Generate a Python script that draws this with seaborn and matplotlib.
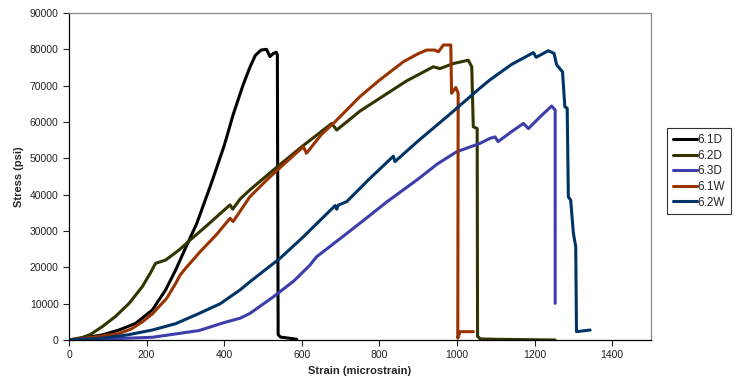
import matplotlib
matplotlib.use("Agg")
import matplotlib.pyplot as plt
import seaborn as sns
import pandas as pd

# Stress-strain curves
x_61d = [0, 20, 50, 86, 130, 172, 215, 249, 275, 301, 329, 346, 368, 400, 423, 448, 466, 480, 495, 509, 518, 526, 534, 537, 539, 545, 560, 587]
y_61d = [0, 300, 800, 1400, 2800, 4600, 8300, 13800, 19300, 25500, 32000, 37000, 43500, 53500, 62000, 70000, 75000, 78300, 79800, 80000, 78000, 78800, 79200, 78500, 1500, 800, 600, 200]

x_62d = [0, 34, 55, 86, 120, 155, 189, 210, 223, 249, 284, 312, 350, 415, 422, 441, 466, 527, 600, 677, 690, 750, 815, 870, 939, 956, 991, 1029, 1038, 1042, 1052, 1053, 1060, 1100, 1253]
y_62d = [0, 700, 1500, 3700, 6500, 10100, 14700, 18500, 21100, 22000, 24800, 27500, 31000, 37200, 36000, 38800, 41300, 46800, 53200, 59600, 57800, 63000, 67500, 71300, 75200, 74700, 76100, 77000, 75200, 58700, 58200, 1000, 300, 200, 0]

x_63d = [0, 100, 215, 335, 400, 441, 466, 527, 580, 621, 638, 700, 760, 819, 896, 950, 999, 1059, 1085, 1098, 1106, 1140, 1171, 1184, 1215, 1244, 1253, 1253]
y_63d = [0, 300, 750, 2600, 4800, 6000, 7300, 11900, 16300, 20600, 22900, 28000, 33000, 38000, 44000, 48500, 51800, 54100, 55500, 55900, 54600, 57300, 59600, 58200, 61500, 64400, 63300, 10100]

x_61w = [0, 43, 86, 129, 160, 189, 215, 232, 252, 275, 286, 301, 338, 380, 415, 423, 466, 514, 560, 604, 612, 650, 686, 750, 800, 862, 900, 922, 943, 952, 965, 984, 986, 997, 1003, 1002, 1008, 1042]
y_61w = [0, 500, 1100, 1800, 3000, 5000, 7200, 9200, 11500, 15600, 17800, 19800, 24300, 29000, 33500, 32600, 39400, 44500, 49000, 53200, 51400, 56500, 60100, 67000, 71500, 76600, 78800, 79800, 79800, 79300, 81200, 81200, 67900, 69500, 67900, 500, 2300, 2300]

x_62w = [0, 86, 150, 215, 275, 335, 390, 441, 466, 544, 600, 686, 690, 694, 716, 771, 836, 840, 900, 980, 1059, 1085, 1140, 1197, 1204, 1235, 1250, 1257, 1272, 1278, 1284, 1287, 1293, 1300, 1306, 1308, 1343]
y_62w = [0, 500, 1400, 2750, 4500, 7300, 10000, 13800, 16000, 22500, 28000, 37000, 36000, 37100, 38100, 44000, 50600, 49100, 54800, 62000, 69300, 71600, 75800, 79100, 77800, 79600, 78900, 75700, 73800, 64200, 63800, 39400, 38500, 29400, 25700, 2300, 2750]

series = ["6.1D", "6.2D", "6.3D", "6.1W", "6.2W"]
colors = ["#000000", "#333300", "#3d3dab", "#993300", "#003366"]
xs = [x_61d, x_62d, x_63d, x_61w, x_62w]
ys = [y_61d, y_62d, y_63d, y_61w, y_62w]

frames = []
for name, xv, yv in zip(series, xs, ys):
    frames.append(pd.DataFrame({"strain": xv, "stress": yv, "specimen": name}))
df = pd.concat(frames, ignore_index=True)

sns.set_style("white")
plt.rcParams["font.family"] = ["Liberation Sans", "DejaVu Sans"]

fig = plt.figure(figsize=(7.35, 3.81), dpi=100)
ax = fig.add_axes([0.0939, 0.1076, 0.7918, 0.8583])

sns.lineplot(data=df, x="strain", y="stress", hue="specimen", hue_order=series,
             palette=colors, sort=False, estimator=None, units="specimen",
             linewidth=2.2, ax=ax)

ax.set_xlim(0, 1500)
ax.set_ylim(0, 90000)
ax.set_xticks(range(0, 1401, 200))
ax.set_yticks(range(0, 90001, 10000))
ax.tick_params(axis="both", direction="out", length=4, width=0.8, labelsize=7.5,
               colors="#222222", bottom=True, left=True)
ax.set_xlabel("Strain (microstrain)", fontsize=8, fontweight="bold")
ax.set_ylabel("Stress (psi)", fontsize=8, fontweight="bold")

for side in ["top", "right"]:
    ax.spines[side].set_color("#888888")
    ax.spines[side].set_linewidth(0.9)
for side in ["left", "bottom"]:
    ax.spines[side].set_color("#000000")
    ax.spines[side].set_linewidth(0.9)

leg = ax.legend(loc="center left", bbox_to_anchor=(0.9075, 0.55),
                bbox_transform=fig.transFigure, fontsize=8.5, frameon=True,
                fancybox=False, handlelength=2.0, handletextpad=0.1,
                borderpad=0.5, labelspacing=0.3, borderaxespad=0)
leg.get_frame().set_edgecolor("#000000")
leg.get_frame().set_linewidth(0.8)

fig.savefig("out.png", dpi=100)
